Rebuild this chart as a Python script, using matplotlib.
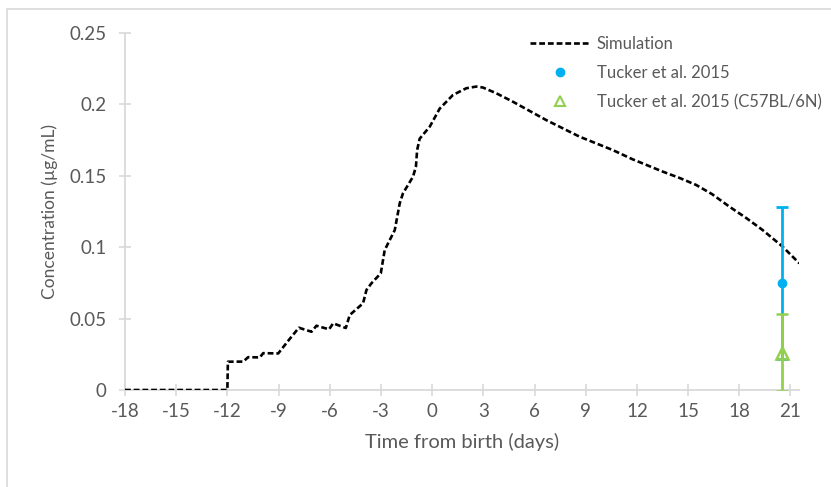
import matplotlib
matplotlib.use("Agg")
import matplotlib.pyplot as plt
from matplotlib.patches import Rectangle

plt.rcParams['font.family'] = ['Lato', 'DejaVu Sans']

# Simulation curve (days from birth, concentration ug/mL)
sim_days = [-18, -12.0, -11.97, -11.07, -10.78, -10.10, -9.90, -9.02, -8.4, -7.81,
            -7.07, -6.78, -6.04, -5.80, -5.06, -4.83, -4.05, -3.85, -3.56, -3.01,
            -2.78, -2.19, -1.90, -1.71, -1.12, -0.95, -0.88, -0.73, -0.14, 0.44,
            1.22, 2.0, 2.59, 2.98, 3.76, 4.73, 6.69, 8.64, 10.59, 11.76,
            12.54, 13.52, 14.5, 15.47, 16.4, 17.42, 18.4, 19.37, 20.54, 21.52]
sim_conc = [0.0, 0.0, 0.0198, 0.0199, 0.0230, 0.0228, 0.0258, 0.0256, 0.035, 0.0436,
            0.0408, 0.0450, 0.0425, 0.0467, 0.0434, 0.0525, 0.0607, 0.0700, 0.0747, 0.0817,
            0.0980, 0.1120, 0.1307, 0.1377, 0.1494, 0.1564, 0.1680, 0.1760, 0.1844, 0.1970,
            0.2066, 0.2113, 0.2125, 0.2118, 0.2078, 0.2019, 0.1890, 0.1774, 0.1680, 0.1615,
            0.1577, 0.1529, 0.1485, 0.1436, 0.1372, 0.1284, 0.1205, 0.1120, 0.1004, 0.0887]

# Observed data
tucker_day = [20.5]
tucker_conc = [0.075]
tucker_err = [0.0535]

c57_day = [20.5]
c57_conc = [0.026]
c57_err = [0.027]

x_ticks = [-18, -15, -12, -9, -6, -3, 0, 3, 6, 9, 12, 15, 18, 21]
x_tick_labels = ["-18", "-15", "-12", "-9", "-6", "-3", "0", "3", "6", "9", "12", "15", "18", "21"]
y_ticks = [0, 0.05, 0.1, 0.15, 0.2, 0.25]
y_tick_labels = ["0", "0.05", "0.1", "0.15", "0.2", "0.25"]

W, H = 831, 487
fig = plt.figure(figsize=(W / 100, H / 100), dpi=100)
ax = fig.add_axes([125 / W, 1 - 390 / H, (799 - 125) / W, (390 - 33) / H])

text_c = '#595959'
axis_c = '#d9d9d9'
blue = '#00B0F0'
green = '#92D050'

ax.plot(sim_days, sim_conc, color='black', lw=1.9, linestyle=(0, (2.2, 1.1)),
        label='Simulation', zorder=3)

ax.errorbar(tucker_day, tucker_conc, yerr=tucker_err, fmt='o', color=blue,
            ms=6, elinewidth=2, capsize=4.5, capthick=2, zorder=4)
ax.errorbar(c57_day, c57_conc, yerr=c57_err, fmt='^', color=green, mfc='none',
            mec=green, mew=1.8, ms=8, elinewidth=2, capsize=4.5, capthick=2, zorder=5)

# legend handles
h_sim, = ax.plot([], [], color='black', lw=1.9, linestyle=(0, (2.2, 1.1)))
h_t, = ax.plot([], [], 'o', color=blue, ms=6)
h_c, = ax.plot([], [], '^', color=green, mfc='none', mew=1.5, ms=7)
leg = fig.legend([h_sim, h_t, h_c],
                 ['Simulation', 'Tucker et al. 2015', 'Tucker et al. 2015 (C57BL/6N)'],
                 loc='upper left', bbox_to_anchor=(530 / W, 1 - 36 / H),
                 frameon=False, fontsize=12, handlelength=3.6, handletextpad=0.4,
                 labelspacing=0.78, labelcolor=text_c, borderaxespad=0, borderpad=0)

ax.set_xlim(-18, 21.5)
ax.set_ylim(0, 0.25)
ax.set_xticks(x_ticks)
ax.set_xticklabels(x_tick_labels)
ax.set_yticks(y_ticks)
ax.set_yticklabels(y_tick_labels)

for s in ['top', 'right']:
    ax.spines[s].set_visible(False)
for s in ['left', 'bottom']:
    ax.spines[s].set_color(axis_c)
    ax.spines[s].set_linewidth(1.3)
ax.tick_params(axis='both', direction='inout', length=9, width=1.2, color=axis_c,
               labelcolor=text_c, labelsize=13.5)
ax.tick_params(axis='y', pad=9)
ax.tick_params(axis='x', pad=5)

ax.set_xlabel('Time from birth (days)', fontsize=14.5, color=text_c, labelpad=9)
ax.set_ylabel('Concentration (µg/mL)', fontsize=12.5, color=text_c, labelpad=8)

# outer chart border (top and left visible)
fig.patches.append(Rectangle((7 / W, -0.05), 1.2, 1 - 9 / H + 0.05, transform=fig.transFigure,
                             fill=False, edgecolor='#d9d9d9', lw=1.2))

fig.savefig('out.png', dpi=100)
